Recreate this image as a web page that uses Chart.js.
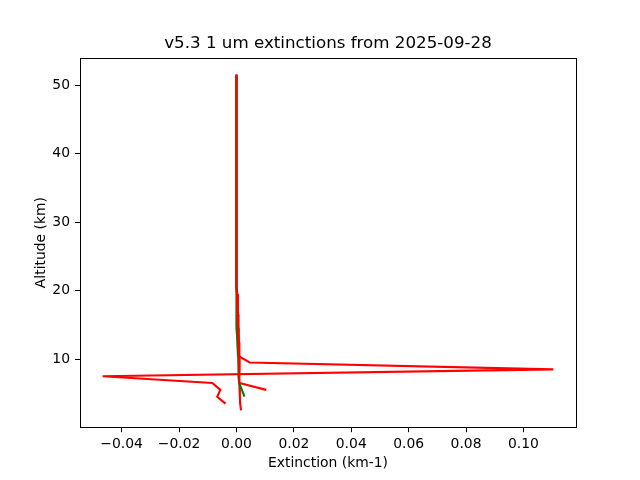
<!DOCTYPE html>
<html>
<head>
<meta charset="utf-8">
<title>v5.3 1 um extinctions</title>
<script src="https://cdn.jsdelivr.net/npm/chart.js@4/dist/chart.umd.min.js"></script>
<style>
  body { margin: 0; background: #fff; }
  #wrap { width: 640px; height: 480px; }
</style>
</head>
<body>
<div id="wrap"><canvas id="chart" width="640" height="480"></canvas></div>
<script>
// altitude levels (km), top to bottom
var altitudes = [51.5, 50.5, 49.5, 48.5, 47.5, 46.5, 45.5, 44.5, 43.5, 42.5,
  41.5, 40.5, 39.5, 38.5, 37.5, 36.5, 35.5, 34.5, 33.5, 32.5,
  31.5, 30.5, 29.5, 28.5, 27.5, 26.5, 25.5, 24.5, 23.5, 22.5,
  21.5, 20.5, 19.5, 18.5, 17.5, 16.5, 15.5, 14.5, 13.5, 12.5,
  11.5, 10.5, 9.5, 8.5, 7.5, 6.5, 5.5, 4.5, 3.5, 2.5];

// extinction profiles (km-1), same order as altitudes, null = no data
var redA = [0, 0, 0, 0, 0, 0, 0, 0, 0, 0,
  0, 0, 0, 0, 0, 0, 0, 0, 0, 0,
  0, 0, 0, 0, 0, 0, 0, 0, 0, 0,
  0, 0.0001, 0.0002, 0.0003, 0.0004, 0.0004, 0.0005, 0.0005, 0.0006, 0.0006,
  0.0006, 0.0005, 0.0046, 0.1104, -0.0466, -0.0084, -0.0056, -0.0067, -0.0038, null];
var redB = [0, 0, 0, 0, 0, 0, 0, 0, 0, 0,
  0, 0, 0, 0, 0, 0, 0, 0, 0, 0,
  0, 0, 0, 0, 0, 0, 0, 0, 0, 0,
  0, 0.0001, 0.0003, 0.0004, 0.0005, 0.0006, 0.0007, 0.0007, 0.0008, 0.0009,
  0.0010, 0.0011, 0.0011, 0.0009, 0.0008, 0.0010, 0.0012, 0.0012, 0.0013, 0.0016];
var redC = [0, 0, 0, 0, 0, 0, 0, 0, 0, 0,
  0, 0, 0, 0, 0, 0, 0, 0, 0, 0,
  0, 0, 0, 0, 0, 0, 0, 0, 0, 0,
  0, 0, 0.0002, 0.0003, 0.0004, 0.0005, 0.0005, 0.0006, 0.0007, 0.0008,
  0.0008, 0.0009, 0.0009, 0.0010, 0.0010, 0.0012, 0.0104, null, null, null];
var green = [0, 0, 0, 0, 0, 0, 0, 0, 0, 0,
  0, 0, 0, 0, 0, 0, 0, 0, 0, 0,
  0, 0, 0, 0, 0, 0, 0, 0, 0, 0,
  0, 0, 0, 0, 0, 0, 0.0001, 0.0001, 0.0002, 0.0003,
  0.0005, 0.0006, 0.0007, 0.0008, 0.0008, 0.0009, 0.0019, 0.0028, null, null];

var xTicks = [-0.04, -0.02, 0.00, 0.02, 0.04, 0.06, 0.08, 0.10];
var yTicks = [10, 20, 30, 40, 50];

var FONT = "'DejaVu Sans', sans-serif";

function profile(values) {
  var pts = [];
  for (var i = 0; i < altitudes.length; i++) {
    if (values[i] !== null) pts.push({ x: values[i], y: altitudes[i] });
  }
  return pts;
}

function line(values, color, order) {
  return {
    data: profile(values),
    showLine: true,
    borderColor: color,
    backgroundColor: color,
    borderWidth: 2.1,
    pointRadius: 0,
    pointHoverRadius: 0,
    order: order
  };
}

// matplotlib draws all four spines, chart.js only the axis ones
var frame = {
  id: "frame",
  afterDraw: function (chart) {
    var a = chart.chartArea, ctx = chart.ctx;
    ctx.save();
    ctx.strokeStyle = "#000";
    ctx.lineWidth = 1;
    ctx.strokeRect(Math.round(a.left) + 0.5, Math.round(a.top) + 0.5,
      Math.round(a.right - a.left), Math.round(a.bottom - a.top));
    ctx.restore();
  }
};

function fmtX(v) {
  var s = Math.abs(v).toFixed(2);
  return v < -1e-9 ? "\u2212" + s : s;
}

new Chart(document.getElementById("chart"), {
  type: "scatter",
  data: {
    datasets: [
      line(redA, "#ff0000", 4),
      line(redB, "#ff0000", 3),
      line(green, "#008000", 2),
      line(redC, "#ff0000", 1)
    ]
  },
  plugins: [frame],
  options: {
    responsive: false,
    animation: false,
    layout: { padding: { left: 0, right: 64, top: 0, bottom: 0 } },
    plugins: {
      legend: { display: false },
      tooltip: { enabled: false },
      title: {
        display: true,
        fullSize: false,
        text: "v5.3 1 um extinctions from 2025-09-28",
        color: "#000",
        font: { family: FONT, size: 16.7, weight: "normal" },
        padding: { top: 33.4, bottom: 4.6 }
      }
    },
    scales: {
      x: {
        type: "linear",
        min: -0.0545,
        max: 0.1183,
        afterFit: function (s) { s.height = 52.8; },
        afterBuildTicks: function (s) {
          s.ticks = xTicks.map(function (v) { return { value: v }; });
        },
        grid: { display: true, drawOnChartArea: false, color: "#000", tickLength: 5, lineWidth: 1 },
        border: { display: true, color: "#000", width: 1 },
        ticks: {
          color: "#000", padding: 4, autoSkip: false, maxRotation: 0,
          font: { family: FONT, size: 13.9 },
          callback: function (v) { return fmtX(v); }
        },
        title: {
          display: true, text: "Extinction (km-1)", color: "#000",
          font: { family: FONT, size: 13.9 },
          padding: { top: 0, bottom: 8.7 }
        }
      },
      y: {
        type: "linear",
        min: 0.05,
        max: 53.95,
        afterFit: function (s) { s.width = 80; },
        afterBuildTicks: function (s) {
          s.ticks = yTicks.map(function (v) { return { value: v }; });
        },
        grid: { display: true, drawOnChartArea: false, color: "#000", tickLength: 5, lineWidth: 1 },
        border: { display: true, color: "#000", width: 1 },
        ticks: {
          color: "#000", padding: 5,
          font: { family: FONT, size: 13.9 },
          callback: function (v) { return String(v); }
        },
        title: {
          display: true, text: "Altitude (km)", color: "#000",
          font: { family: FONT, size: 13.9 },
          padding: { top: 32.7, bottom: 0 }
        }
      }
    }
  }
});
</script>
</body>
</html>
